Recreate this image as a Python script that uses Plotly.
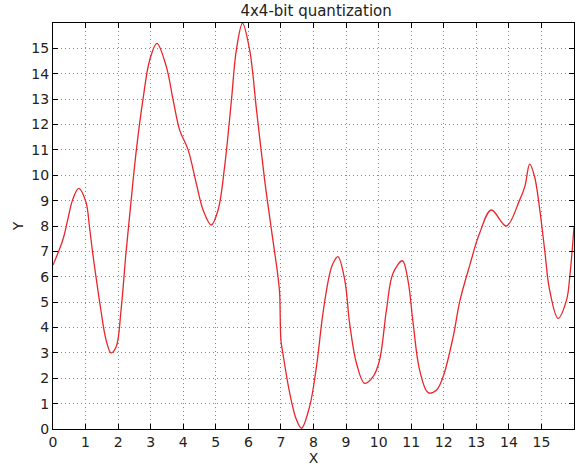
import plotly.graph_objects as go

x_vals = [0.0, 0.30, 0.45, 0.60, 0.79, 1.01, 1.12, 1.22, 1.32, 1.47, 1.63, 1.78, 1.94, 2.09, 2.24, 2.40,
          2.56, 2.76, 2.97, 3.19, 3.48, 3.69, 3.89, 4.15, 4.40, 4.61, 4.86, 5.07, 5.27, 5.48, 5.63, 5.82,
          6.04, 6.25, 6.50, 6.71, 6.91, 6.96, 7.0, 7.06, 7.27, 7.48, 7.63, 7.88, 8.09, 8.29, 8.50, 8.60,
          8.75, 8.96, 9.11, 9.32, 9.57, 9.83, 10.03, 10.24, 10.44, 10.73, 10.90, 11.06, 11.26, 11.52,
          11.78, 11.98, 12.29, 12.49, 12.80, 13.1, 13.46, 13.92, 14.33, 14.49, 14.64, 14.79, 14.95,
          15.1, 15.25, 15.51, 15.77, 15.87, 16.0]
y_vals = [6.46, 7.45, 8.23, 9.02, 9.48, 8.95, 7.97, 6.92, 6.0, 4.69, 3.51, 3.0, 3.24, 4.69, 6.92, 9.02,
          11.0, 12.96, 14.54, 15.2, 14.28, 12.96, 11.78, 11.0, 9.68, 8.63, 8.04, 8.63, 10.33, 12.96, 14.93, 15.99,
          14.93, 12.57, 9.81, 7.84, 6.0, 5.35, 3.5, 2.98, 1.41, 0.35, 0.03, 0.88, 2.45, 4.56, 6.13, 6.53,
          6.79, 5.87, 4.16, 2.59, 1.80, 2.06, 2.72, 4.69, 6.13, 6.63, 5.87, 4.16, 2.32, 1.43,
          1.54, 2.06, 3.64, 5.02, 6.46, 7.71, 8.63, 8.0, 9.02, 9.55, 10.44, 9.94, 8.63,
          7.05, 5.48, 4.36, 5.08, 6.0, 7.97]
tick_vals = list(range(16))

fig = go.Figure()
fig.add_trace(go.Scatter(x=x_vals, y=y_vals, mode="lines",
                         line=dict(color="#e8262b", width=1.3, shape="spline", smoothing=1.0),
                         showlegend=False))

axis_common = dict(
    range=[0, 16], tickvals=tick_vals, showgrid=True, gridcolor="#8a8a8a", griddash="1px,3px", gridwidth=1,
    showline=True, linecolor="black", linewidth=1, mirror="ticks", ticks="inside", ticklen=5,
    tickcolor="black", zeroline=False, tickfont=dict(size=14, color="#222"), automargin=False,
)

fig.update_layout(
    width=580, height=470,
    margin=dict(l=53, r=6, t=23, b=41),
    plot_bgcolor="white", paper_bgcolor="white",
    font=dict(family="DejaVu Sans", color="#222"),
    title=dict(text="4x4-bit quantization", x=0.545, xanchor="center", y=0.988, yanchor="top",
               font=dict(size=15)),
    xaxis=dict(axis_common, title=dict(text="X", font=dict(size=14), standoff=3)),
    yaxis=dict(axis_common, title=dict(text="Y", font=dict(size=14), standoff=4)),
)

fig.write_html("out.html", config={"displayModeBar": False},
               post_script="document.body.style.margin='0';document.body.style.overflow='hidden';")
